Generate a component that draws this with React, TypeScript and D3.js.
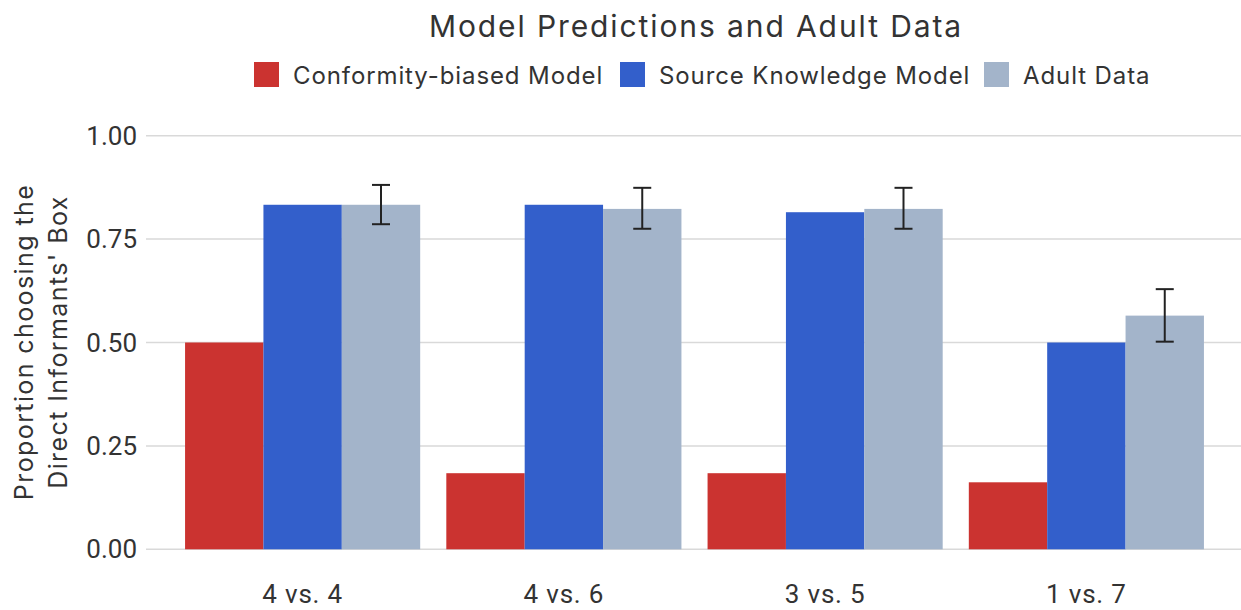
import React, { useEffect } from "react";
import * as d3 from "d3";

const categories = ["4 vs. 4", "4 vs. 6", "3 vs. 5", "1 vs. 7"];
const seriesNames = ["Conformity-biased Model", "Source Knowledge Model", "Adult Data"];
const conformity = [0.5, 0.184, 0.184, 0.162];
const sourceKnowledge = [0.833, 0.833, 0.815, 0.5];
const adult = [0.833, 0.823, 0.823, 0.565];
const adultLow = [0.786, 0.775, 0.775, 0.502];
const adultHigh = [0.881, 0.874, 0.874, 0.629];
const yTicks = [0, 0.25, 0.5, 0.75, 1];
const colors = ["#CB3330", "#335FCB", "#A3B4CA"];

const W = 1241;
const H = 610;
const FONT = "Inter, Roboto, 'Liberation Sans', sans-serif";
const FONT2 = "Roboto, 'Liberation Sans', sans-serif";
const TEXT = "#333333";

export default function App() {
  useEffect(() => {
    document.body.style.margin = "0";
  }, []);

  const plotLeft = 146;
  const plotRight = 1241;
  const y = d3.scaleLinear().domain([0, 1]).range([549.3, 135.7]);
  const x0 = d3.scaleBand<string>().domain(categories).range([172, 1217]).paddingInner(0.1).paddingOuter(0.05);
  const x1 = d3.scaleBand<number>().domain([0, 1, 2]).range([0, x0.bandwidth()]);
  const series = [conformity, sourceKnowledge, adult];

  const legendX = [254, 620, 984];

  return (
    <svg width={W} height={H} style={{ display: "block", fontFamily: FONT }}>
      <rect x={0} y={0} width={W} height={H} fill="#ffffff" />
      <text x={696} y={37} textAnchor="middle" fontSize={30} letterSpacing={1.9} fill={TEXT}>
        Model Predictions and Adult Data
      </text>
      {seriesNames.map((n, i) => (
        <g key={n}>
          <rect x={legendX[i]} y={62} width={25} height={25} fill={colors[i]} />
          <text x={legendX[i] + 39} y={84} fontSize={24} letterSpacing={0.9} fill={TEXT}>
            {n}
          </text>
        </g>
      ))}
      {yTicks.map((t) => (
        <g key={t}>
          <line x1={plotLeft} x2={plotRight} y1={y(t)} y2={y(t)} stroke="#D9D9D9" strokeWidth={1.5} />
          <text x={137} y={y(t) + 9} textAnchor="end" fontSize={26} fill={TEXT} fontFamily={FONT2}>
            {d3.format(".2f")(t)}
          </text>
        </g>
      ))}
      <g transform={`translate(41, 342) rotate(-90)`}>
        <text x={0} y={-8} textAnchor="middle" fontSize={25} letterSpacing={1.4} fill={TEXT}>
          Proportion choosing the
        </text>
        <text x={0} y={26} textAnchor="middle" fontSize={25} letterSpacing={1.4} fill={TEXT}>
          Direct Informants' Box
        </text>
      </g>
      {categories.map((c, ci) => (
        <g key={c} transform={`translate(${x0(c)},0)`}>
          {series.map((s, si) => (
            <rect
              key={si}
              x={x1(si)}
              y={y(s[ci])}
              width={x1.bandwidth()}
              height={y(0) - y(s[ci])}
              fill={colors[si]}
            />
          ))}
          {(() => {
            const cx = (x1(2) as number) + x1.bandwidth() / 2;
            return (
              <g stroke="#222" strokeWidth={2}>
                <line x1={cx} x2={cx} y1={y(adultLow[ci])} y2={y(adultHigh[ci])} />
                <line x1={cx - 9} x2={cx + 9} y1={y(adultLow[ci])} y2={y(adultLow[ci])} />
                <line x1={cx - 9} x2={cx + 9} y1={y(adultHigh[ci])} y2={y(adultHigh[ci])} />
              </g>
            );
          })()}
          <text x={x0.bandwidth() / 2} y={603} textAnchor="middle" fontSize={26} letterSpacing={0.8} fill={TEXT} fontFamily={FONT2}>
            {c}
          </text>
        </g>
      ))}
    </svg>
  );
}
